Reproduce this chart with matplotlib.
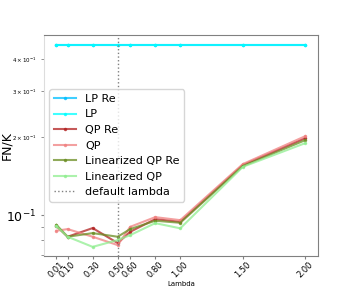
import matplotlib
matplotlib.use("Agg")
import matplotlib.pyplot as plt

lambdas = [0.01, 0.1, 0.3, 0.5, 0.6, 0.8, 1.0, 1.5, 2.0]
tick_labels = ["0.01", "0.10", "0.30", "0.50", "0.60", "0.80", "1.00", "1.50", "2.00"]

lp_re = [0.453, 0.453, 0.453, 0.453, 0.453, 0.453, 0.453, 0.453, 0.453]
lp = [0.453, 0.453, 0.453, 0.453, 0.453, 0.453, 0.453, 0.453, 0.453]
qp_re = [0.0907, 0.0825, 0.0891, 0.0780, 0.0862, 0.0965, 0.0942, 0.1560, 0.1982]
qp = [0.0870, 0.0883, 0.0825, 0.0766, 0.0901, 0.0982, 0.0956, 0.1574, 0.2018]
lin_qp_re = [0.0917, 0.0825, 0.0852, 0.0825, 0.0883, 0.0951, 0.0934, 0.1546, 0.1948]
lin_qp = [0.0907, 0.0825, 0.0754, 0.0801, 0.0837, 0.0931, 0.0889, 0.1536, 0.1897]
default_lambda = 0.5

fig = plt.figure(figsize=(3.54, 2.88), dpi=100)
ax = fig.add_axes([0.124, 0.111, 0.774, 0.767])

series = [
    (lp_re, "LP Re", "deepskyblue"),
    (lp, "LP", "cyan"),
    (qp_re, "QP Re", "firebrick"),
    (qp, "QP", "lightcoral"),
    (lin_qp_re, "Linearized QP Re", "olivedrab"),
    (lin_qp, "Linearized QP", "lightgreen"),
]
for vals, name, col in series:
    ax.plot(lambdas, vals, ".-", color=col, label=name, alpha=0.75,
            linewidth=1.5, markersize=3)

ax.axvline(default_lambda, color="gray", linestyle=":", linewidth=1,
           label="default lambda")

ax.set_yscale("log")
ax.set_ylim(0.0695, 0.495)
ax.set_xticks(lambdas)
ax.set_xticklabels(tick_labels, rotation=45, fontsize=6)
ax.set_xlabel("Lambda", fontsize=5, labelpad=1)
ax.set_ylabel("FN/K", fontsize=9)
ax.yaxis.set_label_coords(-0.112, 0.5)

ax.tick_params(axis="y", which="major", labelsize=9, length=2, color="gray")
ax.tick_params(axis="y", which="minor", labelsize=4, length=2, color="gray")
ax.tick_params(axis="x", length=2, color="gray", pad=1)

for s in ["top", "right", "bottom"]:
    ax.spines[s].set_color("gray")
ax.spines["left"].set_color("#dddddd")

ax.legend(loc="center left", fontsize=8, borderaxespad=0.5)

fig.savefig("out.png", dpi=100)
